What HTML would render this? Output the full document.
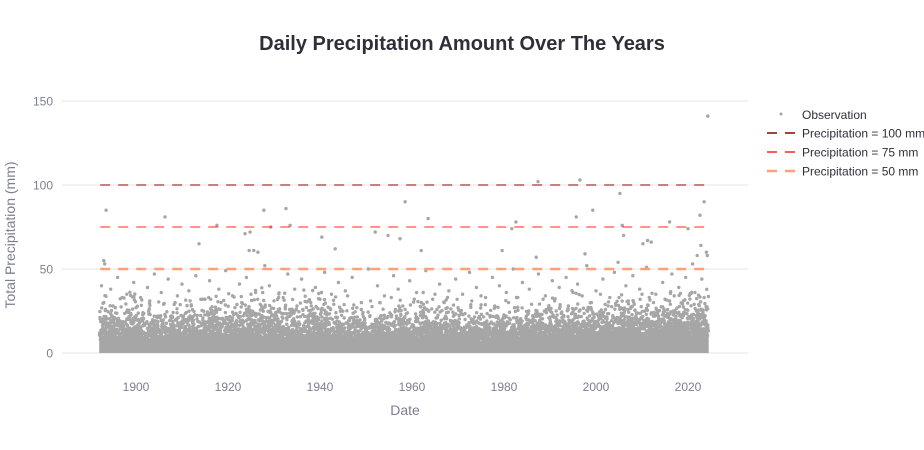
<!DOCTYPE html>
<html><head><meta charset="utf-8">
<style>
html,body{margin:0;padding:0;background:#fff;}
svg{display:block;font-family:"Liberation Sans",Arial,sans-serif;}
</style></head>
<body>
<svg id="chart" width="924" height="450" viewBox="0 0 924 450">
<text x="462" y="50" text-anchor="middle" font-size="20" font-weight="bold" fill="#2f2f3a">Daily Precipitation Amount Over The Years</text>
<g id="grid"></g>
<g id="band"></g>
<g id="points"></g>
<g id="refs"></g>
<g id="axes"></g>
<text x="405" y="415" text-anchor="middle" font-size="14" fill="#7a7f92">Date</text>
<text transform="translate(15,235) rotate(-90)" text-anchor="middle" font-size="14" fill="#7a7f92">Total Precipitation (mm)</text>
<g id="legend"></g>
</svg>
<script>
const yTicks = [0, 50, 100, 150];
const xTicks = [1900, 1920, 1940, 1960, 1980, 2000, 2020];
const refValues = [100, 75, 50];
const refColors = ["#8b0000", "#ff2a1a", "#ffa07a"];
const refLabels = ["Precipitation = 100 mm", "Precipitation = 75 mm", "Precipitation = 50 mm"];
const dataStart = 1892;
const dataEnd = 2024.6;
// dense band per decade bucket starting 1892: solid top and fringe top (mm)
const bandDecades = [1892,1902,1912,1922,1932,1942,1952,1962,1972,1982,1992,2002,2012,2022];
const bandTop = [8,7,8,9,8,7,8,8,7,8,9,9,10,10];
const fringeTop = [42,38,40,44,42,38,38,40,38,40,42,44,46,46];
// notable observations: years and values (mm)
const obsYears = [1893.5,1893.2,1893.0,1906.3,1917.6,1913.7,1923.7,1924.8,1924.6,1925.6,1926.5,1927.8,1929.3,1932.6,1933.5,1940.4,1943.3,1952.0,1954.8,1957.4,1958.5,1963.5,1962.0,1981.7,1982.6,1979.6,1987.4,1987.0,1996.5,1995.7,1999.3,1997.6,2005.2,2005.7,2006.0,2004.8,2010.2,2011.2,2012.0,2016.0,2020.0,2022.6,2023.5,2024.3,2024.0,2022.8,2022.0,
 1892.5,1894.5,1896.0,1898.0,1899.5,1901.0,1902.5,1904.0,1905.5,1907.0,1908.5,1910.0,1911.5,1913.0,1914.5,1916.0,1918.0,1919.5,1921.0,1922.5,1924.0,1926.0,1928.0,1929.0,1931.0,1933.0,1934.5,1936.0,1937.5,1939.0,1941.0,1942.5,1944.0,1945.5,1947.0,1949.0,1950.5,1952.5,1954.0,1956.0,1957.0,1959.5,1961.0,1963.0,1964.5,1966.0,1968.0,1969.5,1971.0,1972.5,1974.0,1976.0,1977.5,1979.0,1980.5,1982.0,1984.0,1985.5,1987.5,1989.0,1990.5,1992.0,1993.5,1995.0,1996.0,1998.0,2000.0,2001.5,2003.0,2004.0,2006.5,2008.0,2009.5,2011.0,2013.0,2014.5,2016.5,2018.0,2019.5,2021.0,2023.0,2024.2,
 1893.0,1895.0,1897.0,1900.0,1903.0,1906.0,1909.0,1912.0,1915.0,1918.5,1921.5,1925.0,1927.0,1930.0,1932.0,1935.0,1938.0,1940.0,1943.0,1946.0,1948.0,1951.0,1953.0,1955.5,1958.0,1960.5,1962.5,1965.0,1967.0,1970.0,1973.0,1975.0,1978.0,1981.0,1983.0,1986.0,1988.5,1991.0,1994.0,1997.0,1999.0,2002.0,2005.0,2007.0,2010.0,2012.5,2015.0,2017.0,2019.0,2021.5,2023.5];
const obsValues = [85,53,55,81,76,65,71,72,61,61,60,85,75,86,76,69,62,72,70,68,90,80,61,74,78,61,102,57,103,81,85,59,95,76,70,54,65,67,66,78,74,82,90,141,60,64,58,
 40,38,45,35,42,33,39,47,36,44,30,41,37,46,32,43,38,49,34,41,45,36,52,40,33,47,38,44,31,39,48,35,42,37,45,30,50,40,34,46,38,43,36,49,32,41,37,44,35,48,39,33,45,40,36,50,42,38,47,34,43,39,45,36,41,52,37,44,33,48,40,46,38,51,35,42,47,39,45,53,44,58,
 30,28,33,27,31,29,34,28,32,30,27,35,29,31,33,28,30,32,29,34,27,31,30,33,28,32,29,35,30,27,31,34,28,30,33,29,32,31,28,34,30,29,33,31,35,30,32,34,31,36,33];

const NS = "http://www.w3.org/2000/svg";
const X0 = 62, X1 = 748;
function xs(v){ return 136 + (v - 1900) * 4.6; }
function ys(v){ return 353 - v * 1.68; }
function mk(tag, attrs, parent){ const e = document.createElementNS(NS, tag); for (const k in attrs) e.setAttribute(k, attrs[k]); parent.appendChild(e); return e; }
// deterministic texture hash for placing band dots (visual texture only)
function h(a, b){ let n = (a * 374761393 + b * 668265263) | 0; n = (n ^ (n >>> 13)) * 1274126177 | 0; return ((n ^ (n >>> 16)) >>> 0) / 4294967296; }
const grid = document.getElementById("grid"), axes = document.getElementById("axes");
yTicks.forEach(t => {
  const l = mk("line", {x1:X0, x2:X1, y1:ys(t), y2:ys(t), stroke:"#e6e6ea", "stroke-width":1}, grid);
  
  
  const tx = mk("text", {x:53, y:ys(t)+4.5, "text-anchor":"end", "font-size":12, fill:"#7a7f92"}, axes);
  tx.textContent = t;
  
  
});
xTicks.forEach(t => {
  const tx = mk("text", {x:xs(t), y:391, "text-anchor":"middle", "font-size":12, fill:"#7a7f92"}, axes);
  tx.textContent = t;
  
  
});
const band = document.getElementById("band");
let pathSolid = "", pathFringe = "";
const x0 = xs(dataStart), x1 = xs(dataEnd);
let col = 0;
for (let x = x0 + 1; x <= x1; x += 1.5, col++) {
  const yr = dataStart + (x - x0) / 4.6;
  let bi = 0; for (let i = 0; i < bandDecades.length; i++) if (yr >= bandDecades[i]) bi = i;
  const top = bandTop[bi], ft = fringeTop[bi];
  pathSolid += "M" + x.toFixed(1) + " " + ys(0).toFixed(1) + "V" + ys(top).toFixed(1);
  let k = 0;
  for (let v = top; v <= ft; v += 0.9, k++) {
    const frac = (v - top) / (ft - top);
    const p = Math.pow(1 - frac, 2.6) * 0.95;
    if (h(col, k) < p) {
      const jx = x + (h(k, col + 7) - 0.5) * 1.5;
      const jy = ys(v) + (h(col + 3, k + 11) - 0.5) * 1.5;
      pathFringe += "M" + jx.toFixed(1) + " " + jy.toFixed(1) + "h0.01";
    }
  }
}
const bs = mk("path", {d:pathSolid, stroke:"#a6a6a6", "stroke-width":2, fill:"none"}, band);


const bf = mk("path", {d:pathFringe, stroke:"#a6a6a6", "stroke-width":3.4, "stroke-linecap":"round", fill:"none"}, band);


const pts = document.getElementById("points");
obsYears.forEach((yr, i) => {
  const c = mk("circle", {cx:xs(yr), cy:ys(obsValues[i]), r:1.7, fill:"#a6a6a6"}, pts);
  
  
});
const refs = document.getElementById("refs");
refValues.forEach((v, i) => {
  const l = mk("line", {x1:xs(dataStart)+1, x2:xs(dataEnd)-5, y1:ys(v), y2:ys(v), stroke:refColors[i], "stroke-width": i===2?2.5:1, "stroke-dasharray":"10,8"}, refs);
  
  
});
const lg = document.getElementById("legend");
const ob = mk("g", {}, lg);


mk("circle", {cx:781, cy:114, r:1.5, fill:"#a6a6a6"}, ob);
const ot = mk("text", {x:802, y:119, "font-size":12, fill:"#2f2f3a"}, ob); ot.textContent = "Observation";
refLabels.forEach((lab, i) => {
  const y = 133 + i * 19;
  const g = mk("g", {}, lg);
  
  
  mk("line", {x1:767, x2:795, y1:y, y2:y, stroke:refColors[i], "stroke-width": i===2?2.5:1.5, "stroke-dasharray":"10,8"}, g);
  const t = mk("text", {x:802, y:y+4.5, "font-size":12, fill:"#2f2f3a"}, g); t.textContent = lab;
});
</script>
</body></html>
